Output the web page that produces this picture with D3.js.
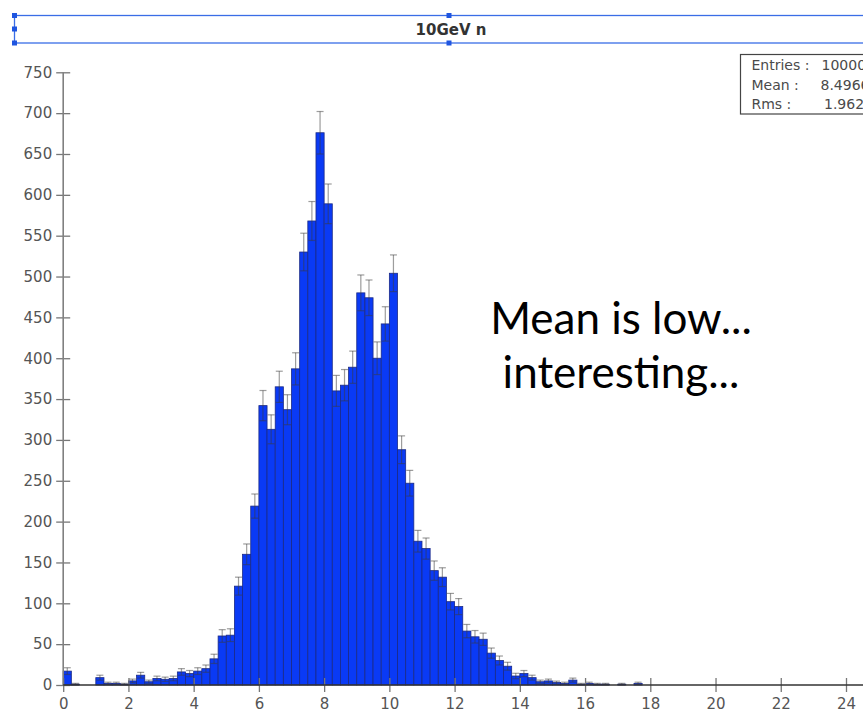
<!DOCTYPE html>
<html>
<head>
<meta charset="utf-8">
<script src="https://cdn.jsdelivr.net/npm/d3@7"></script>
<style>
  body { margin: 0; background: #fff; }
  svg { display: block; }
</style>
</head>
<body>
<div id="chart"></div>
<script>
// histogram: 0.25 wide bins starting at 0
const binWidth = 0.25
const counts = [
  17, 1, 0, 0, 9, 2, 2, 1,
  5, 12, 4, 8, 7, 8, 16, 14,
  17, 20, 32, 60, 61, 121, 160, 219,
  342, 313, 365, 337, 387, 530, 568, 676,
  589, 360, 367, 389, 480, 474, 400, 442,
  504, 288, 247, 176, 167, 140, 132, 102,
  96, 66, 59, 56, 39, 30, 23, 11,
  14, 9, 4, 5, 3, 2, 6, 1,
  2, 1, 1, 0, 1, 0, 2
]
const xTicks = [0, 2, 4, 6, 8, 10, 12, 14, 16, 18, 20, 22, 24]
const yTicks = [0, 50, 100, 150, 200, 250, 300, 350, 400, 450, 500, 550, 600, 650, 700, 750]
const title = '10GeV n'
const statLabels = ['Entries :', 'Mean :', 'Rms :']
const statValues = ['10000', '8.4966', '1.9626']
const note = ['Mean is low...', 'interesting...']

const width = 863
const height = 712

const svg = d3.select('#chart')
  .append('svg')
  .attr('width', width)
  .attr('height', height)

const x = d3.scaleLinear().domain([0, 24]).range([63.2, 846])
const y = d3.scaleLinear().domain([0, 750]).range([685, 72.3])

// title box with selection handles
svg.append('rect')
  .attr('x', 14.5).attr('y', 15.5)
  .attr('width', 900).attr('height', 27.5)
  .attr('fill', 'none')
  .attr('stroke', '#3a6de6')
  .attr('stroke-width', 1.3)

const handles = [[14.5, 15.5], [449, 15.5], [14.5, 29], [14.5, 43], [449, 43]]
svg.selectAll('.handle')
  .data(handles)
  .enter()
  .append('rect')
  .attr('class', 'handle')
  .attr('x', d => d[0] - 2.5)
  .attr('y', d => d[1] - 2.5)
  .attr('width', 5)
  .attr('height', 5)
  .attr('fill', '#1f55e0')

svg.append('text')
  .attr('x', 451)
  .attr('y', 35)
  .attr('text-anchor', 'middle')
  .attr('font-family', 'DejaVu Sans')
  .attr('font-weight', 'bold')
  .attr('font-size', 15)
  .attr('fill', '#333')
  .text(title)

// bars
const bins = counts.map((c, i) => ({ x0: i * binWidth, x1: (i + 1) * binWidth, n: c }))
  .filter(d => d.n > 0)

svg.selectAll('.bar')
  .data(bins)
  .enter()
  .append('rect')
  .attr('class', 'bar')
  .attr('x', d => x(d.x0))
  .attr('y', d => y(d.n))
  .attr('width', d => x(d.x1) - x(d.x0))
  .attr('height', d => y(0) - y(d.n))
  .attr('fill', '#0a3af5')
  .attr('stroke', '#1b2a86')
  .attr('stroke-width', 0.8)

// error bars (sqrt N)
const err = svg.append('g')
  .attr('stroke', '#3c3c3c')
  .attr('stroke-opacity', 0.5)
  .attr('stroke-width', 1.2)

bins.forEach(d => {
  const cx = (x(d.x0) + x(d.x1)) / 2
  const e = Math.sqrt(d.n)
  const lo = y(Math.max(0, d.n - e))
  const hi = y(d.n + e)
  err.append('line').attr('x1', cx).attr('x2', cx).attr('y1', lo).attr('y2', hi)
  err.append('line').attr('x1', cx - 3.5).attr('x2', cx + 3.5).attr('y1', hi).attr('y2', hi)
  err.append('line').attr('x1', cx - 3.5).attr('x2', cx + 3.5).attr('y1', lo).attr('y2', lo)
})

// y axis
const yAxis = svg.append('g')
  .attr('transform', 'translate(' + x(0) + ',0)')
  .call(d3.axisLeft(y).tickValues(yTicks).tickSize(7).tickPadding(4))
yAxis.select('.domain').remove()
yAxis.selectAll('.tick line').attr('x1', -7).attr('x2', 7).attr('stroke', '#777').attr('stroke-width', 1.3)
yAxis.selectAll('.tick text')
  .attr('font-family', 'DejaVu Sans')
  .attr('font-size', 15)
  .attr('fill', '#555')

svg.append('line')
  .attr('x1', x(0)).attr('x2', x(0))
  .attr('y1', y(750)).attr('y2', y(0))
  .attr('stroke', '#808080')
  .attr('stroke-width', 1.6)

// x axis
const xAxis = svg.append('g')
  .attr('transform', 'translate(0,' + y(0) + ')')
  .call(d3.axisBottom(x).tickValues(xTicks).tickSize(7).tickPadding(6))
xAxis.select('.domain').remove()
xAxis.selectAll('.tick line').attr('y1', -7).attr('y2', 7).attr('stroke', '#777').attr('stroke-width', 1.3)
xAxis.selectAll('.tick text')
  .attr('font-family', 'DejaVu Sans')
  .attr('font-size', 15)
  .attr('fill', '#555')

svg.append('line')
  .attr('x1', x(0)).attr('x2', width)
  .attr('y1', y(0)).attr('y2', y(0))
  .attr('stroke', '#333')
  .attr('stroke-width', 1.4)

// stats box, cut by the right edge like in the original
svg.append('rect')
  .attr('x', 740.5).attr('y', 54.5)
  .attr('width', 200).attr('height', 59.5)
  .attr('fill', '#fff')
  .attr('stroke', '#444')
  .attr('stroke-width', 1.2)

const valueX = [821.5, 820.5, 824]
statLabels.forEach((s, i) => {
  svg.append('text')
    .attr('x', 751.5).attr('y', 70 + i * 19.5)
    .attr('font-family', 'DejaVu Sans')
    .attr('font-size', 14)
    .attr('fill', '#4a4a4a')
    .text(s)
  svg.append('text')
    .attr('x', valueX[i]).attr('y', 70 + i * 19.5)
    .attr('font-family', 'DejaVu Sans')
    .attr('font-size', 14)
    .attr('fill', '#4a4a4a')
    .text(statValues[i])
})

// annotation
svg.selectAll('.note')
  .data(note)
  .enter()
  .append('text')
  .attr('class', 'note')
  .attr('x', 621)
  .attr('y', (d, i) => 334 + i * 54)
  .attr('text-anchor', 'middle')
  .attr('font-family', 'Lato')
  .attr('font-size', 44)
  .attr('fill', '#000')
  .text(d => d)
</script>
</body>
</html>
